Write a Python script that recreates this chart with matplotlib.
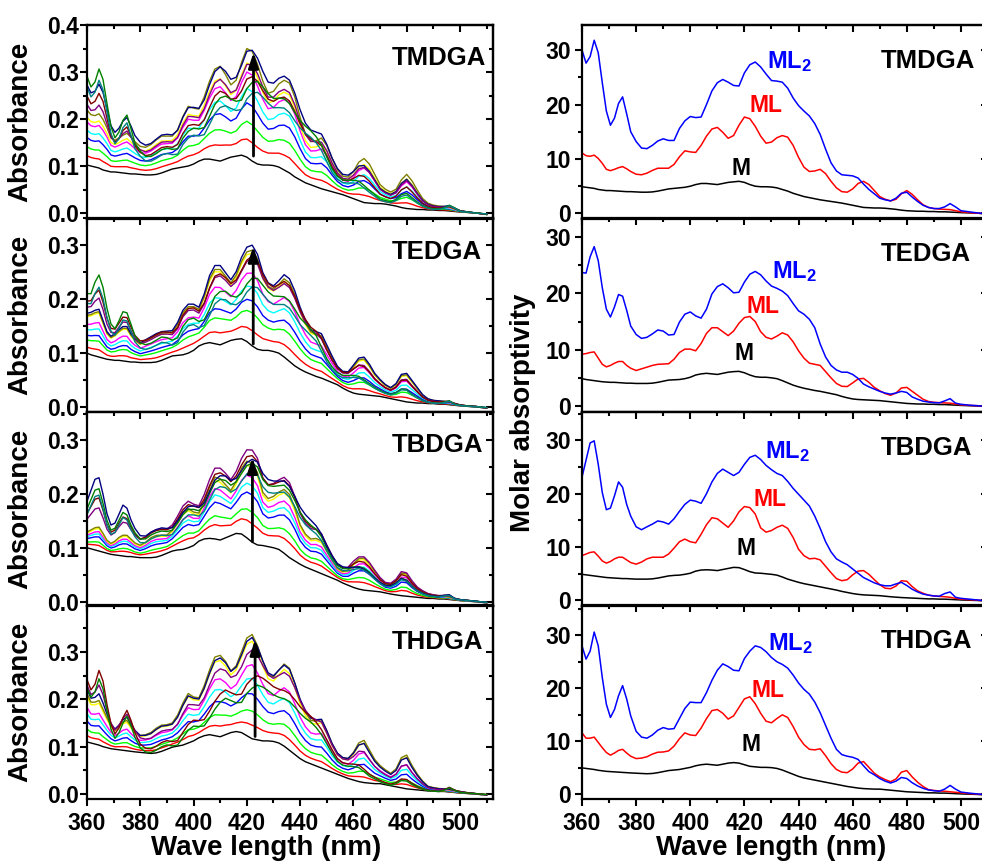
import numpy as np
import matplotlib
matplotlib.use('Agg')
import matplotlib.pyplot as plt
from matplotlib.ticker import MultipleLocator

plt.rcParams['font.family'] = ['Liberation Sans', 'DejaVu Sans']
plt.rcParams['font.weight'] = 'bold'
plt.rcParams['mathtext.fontset'] = 'custom'
plt.rcParams['mathtext.bf'] = 'Liberation Sans:bold'
plt.rcParams['mathtext.rm'] = 'Liberation Sans:bold'
plt.rcParams['mathtext.it'] = 'Liberation Sans:bold'

# ---------------- data ----------------
wavelength = np.r_[np.arange(360, 379, 1.5), np.arange(380, 501, 2), 503, 506, 510]
ligands = ['TMDGA', 'TEDGA', 'TBDGA', 'THDGA']

# molar absorptivity spectra (right column)
eps_M_TMDGA = [4.9, 4.8, 4.7, 4.6, 4.4, 4.3, 4.2, 4.2, 4.15, 4.1, 4.05, 4.0, 4.0,
               3.95, 3.9, 3.9, 3.95, 4.1, 4.3, 4.5, 4.6, 4.7, 4.8, 5.0, 5.3, 5.5, 5.5, 5.4, 5.3, 5.5, 5.7, 5.8, 5.9, 5.7,
               5.3, 5.0, 4.9, 4.9, 4.85, 4.7, 4.4, 4.1, 3.7, 3.4, 3.1, 2.9, 2.7, 2.5, 2.35, 2.2, 2.05, 1.9, 1.7, 1.5,
               1.3, 1.1, 1.05, 1.0, 1.0, 0.95, 0.85, 0.75, 0.6, 0.5, 0.45, 0.4, 0.4, 0.35, 0.35, 0.3, 0.3, 0.25, 0.2, 0.15,
               0.1, 0.05, -0.1]
eps_ML_TMDGA = [11.1, 10.6, 10.5, 10.7, 10.1, 9.2, 8.1, 7.85, 8.1, 8.4, 8.6, 8.2, 7.7,
                7.2, 7.1, 7.4, 7.9, 8.3, 8.3, 8.3, 9.0, 10.4, 11.5, 11.3, 11.2, 12.5, 14.2, 15.5, 15.8, 14.9, 13.8, 14.3, 16.2, 17.7,
                17.4, 16.0, 14.2, 12.9, 13.1, 13.9, 14.3, 14.0, 12.5, 10.3, 8.5, 7.7, 7.8, 8.1, 7.3, 5.9, 4.7, 4.0, 3.9, 4.5,
                5.5, 5.9, 5.3, 4.2, 3.1, 2.6, 2.3, 2.6, 3.6, 4.2, 3.5, 2.5, 1.6, 1.1, 0.9, 0.8, 0.75, 0.7, 0.5, 0.3,
                0.15, 0.05, -0.1]
eps_ML2_TMDGA = [30.0, 27.6, 28.8, 31.8, 29.5, 24.0, 18.8, 16.2, 17.5, 20.2, 21.4, 18.3, 15.0,
                 13.2, 12.0, 11.9, 12.5, 13.3, 13.7, 13.4, 13.4, 15.6, 17.0, 17.8, 17.6, 17.7, 20.0, 22.5, 24.0, 24.6, 24.1, 23.5, 23.4, 25.8,
                 27.3, 27.8, 26.9, 25.6, 24.4, 24.3, 24.1, 23.0, 21.2, 19.8, 18.8, 17.9, 16.5, 14.5, 11.8, 9.3, 7.8, 7.1, 7.0, 6.9,
                 6.5, 5.4, 4.4, 3.6, 2.8, 2.5, 2.3, 2.8, 3.7, 3.9, 3.0, 2.2, 1.5, 1.1, 0.9, 0.9, 1.2, 1.8, 1.2, 0.5,
                 0.3, 0.1, -0.1]

eps_M_TEDGA = [4.85, 4.7, 4.6, 4.5, 4.4, 4.3, 4.25, 4.2, 4.2, 4.15, 4.1, 4.05, 4.05,
               4.0, 4.0, 4.0, 4.05, 4.2, 4.4, 4.6, 4.65, 4.7, 4.85, 5.1, 5.5, 5.7, 5.8, 5.7, 5.6, 5.8, 6.0, 6.1, 6.15, 5.9,
               5.5, 5.2, 5.1, 5.1, 5.0, 4.85, 4.5, 4.1, 3.7, 3.4, 3.15, 2.95, 2.75, 2.6, 2.4, 2.2, 2.0, 1.7, 1.45, 1.25,
               1.15, 1.1, 1.05, 1.0, 0.95, 0.85, 0.75, 0.65, 0.55, 0.45, 0.4, 0.35, 0.35, 0.3, 0.3, 0.25, 0.25, 0.2, 0.15, 0.1,
               0.05, 0.0, -0.1]
eps_ML_TEDGA = [9.2, 9.3, 9.5, 9.6, 8.5, 7.4, 6.95, 7.2, 7.6, 7.9, 7.9, 7.2, 6.7,
                6.3, 6.6, 6.9, 7.2, 7.4, 7.45, 7.5, 8.3, 9.5, 10.1, 10.1, 9.8, 11.1, 12.9, 13.9, 13.9, 13.2, 12.5, 13.3, 14.7, 15.7,
                15.9, 15.0, 13.2, 12.2, 11.9, 12.4, 13.0, 12.6, 11.4, 9.8, 8.5, 7.6, 7.4, 7.2, 6.1, 5.0, 4.0, 3.5, 3.45, 4.1,
                4.8, 4.9, 4.2, 3.3, 2.7, 2.2, 1.9, 2.3, 3.2, 3.3, 2.6, 1.9, 1.2, 0.8, 0.65, 0.6, 0.55, 0.5, 0.35, 0.2,
                0.1, 0.05, -0.1]
eps_ML2_TEDGA = [23.7, 23.6, 26.5, 28.3, 25.8, 21.0, 17.2, 15.8, 17.6, 19.8, 19.5, 17.0, 14.2,
                 12.7, 12.0, 12.2, 12.8, 13.5, 13.3, 12.6, 12.7, 14.9, 16.3, 16.7, 16.0, 15.6, 17.2, 19.9, 21.2, 21.7, 21.0, 20.1, 20.2, 22.0,
                 23.4, 23.9, 23.3, 22.2, 21.3, 20.9, 20.4, 19.6, 18.2, 16.9, 16.3, 15.4, 13.9, 11.0, 8.7, 7.2, 6.4, 6.0, 6.0, 5.6,
                 4.9, 3.9, 3.4, 3.0, 2.6, 2.3, 2.1, 2.3, 2.6, 2.4, 1.6, 1.2, 0.85, 0.7, 0.6, 0.55, 0.9, 1.3, 0.5, 0.3,
                 0.15, 0.05, -0.1]

eps_M_TBDGA = [4.9, 4.8, 4.7, 4.6, 4.5, 4.4, 4.3, 4.25, 4.2, 4.15, 4.1, 4.1, 4.05,
               4.0, 4.0, 4.0, 4.05, 4.2, 4.4, 4.6, 4.7, 4.75, 4.9, 5.1, 5.5, 5.7, 5.75, 5.7, 5.6, 5.8, 6.0, 6.2, 6.15, 5.8,
               5.4, 5.15, 5.1, 5.0, 4.9, 4.75, 4.4, 4.0, 3.7, 3.4, 3.15, 2.95, 2.75, 2.55, 2.35, 2.15, 1.95, 1.7, 1.5, 1.3,
               1.15, 1.05, 1.0, 0.95, 0.9, 0.8, 0.7, 0.62, 0.55, 0.5, 0.45, 0.4, 0.35, 0.3, 0.3, 0.25, 0.25, 0.2, 0.15, 0.1,
               0.05, 0.0, -0.1]
eps_ML_TBDGA = [8.4, 8.7, 9.0, 9.1, 8.3, 7.4, 7.0, 7.3, 7.8, 8.1, 8.1, 7.6, 7.1,
                6.8, 7.2, 7.8, 8.1, 8.1, 8.1, 8.7, 9.8, 11.0, 11.5, 11.0, 10.8, 12.4, 14.2, 15.5, 15.3, 14.5, 13.7, 14.9, 16.6, 17.6,
                17.4, 16.2, 13.6, 12.8, 13.1, 13.7, 14.1, 13.5, 11.8, 9.6, 8.4, 7.8, 7.9, 7.6, 6.4, 5.2, 4.1, 3.7, 3.9, 4.8,
                5.5, 5.6, 4.9, 3.9, 2.95, 2.3, 2.2, 2.7, 3.7, 3.6, 2.6, 1.8, 1.35, 1.0, 0.85, 0.75, 0.7, 0.6, 0.4, 0.25,
                0.15, 0.05, -0.1]
eps_ML2_TBDGA = [23.1, 26.3, 29.5, 29.9, 25.5, 20.2, 17.0, 17.3, 19.6, 22.2, 21.2, 18.0, 15.8,
                 13.8, 13.25, 13.8, 14.3, 14.9, 14.7, 14.3, 15.3, 16.7, 18.0, 18.8, 18.6, 18.2, 20.0, 22.2, 23.8, 24.6, 24.0, 23.4, 24.0, 25.5,
                 26.8, 27.2, 26.4, 25.3, 24.5, 23.8, 23.4, 22.3, 21.0, 19.9, 18.8, 17.7, 15.8, 13.5, 11.0, 9.1, 7.8, 7.2, 6.7, 5.9,
                 5.1, 4.3, 3.8, 3.3, 2.95, 2.75, 2.75, 3.1, 3.4, 2.8, 2.1, 1.6, 1.2, 1.0, 0.85, 0.8, 1.3, 1.6, 0.6, 0.4,
                 0.25, 0.1, -0.1]

eps_M_THDGA = [5.0, 4.9, 4.8, 4.7, 4.55, 4.45, 4.35, 4.3, 4.25, 4.2, 4.15, 4.1, 4.05,
               4.0, 3.95, 3.9, 3.95, 4.1, 4.3, 4.5, 4.6, 4.7, 4.9, 5.1, 5.4, 5.6, 5.7, 5.6, 5.5, 5.7, 5.9, 6.0, 5.9, 5.6,
               5.3, 5.2, 5.1, 5.1, 5.05, 4.9, 4.6, 4.2, 3.8, 3.4, 3.1, 2.9, 2.7, 2.5, 2.3, 2.1, 1.9, 1.7, 1.5, 1.35,
               1.2, 1.1, 1.05, 1.0, 1.0, 0.9, 0.8, 0.7, 0.6, 0.5, 0.45, 0.4, 0.35, 0.3, 0.3, 0.25, 0.25, 0.2, 0.15, 0.1,
               0.05, 0.0, -0.1]
eps_ML_THDGA = [11.6, 10.6, 10.6, 10.8, 9.8, 8.8, 7.9, 7.4, 7.8, 8.3, 8.5, 7.8, 7.2,
                6.75, 6.85, 7.1, 7.6, 7.95, 8.0, 8.2, 9.1, 10.5, 11.6, 11.2, 11.1, 12.5, 14.3, 15.8, 16.0, 15.3, 14.2, 14.8, 16.4, 18.0,
                18.4, 17.1, 15.3, 13.8, 13.5, 14.3, 15.0, 14.5, 12.8, 10.8, 9.4, 8.5, 8.4, 8.6, 7.3, 5.8, 4.7, 4.2, 4.1, 4.8,
                5.9, 6.2, 5.1, 4.0, 3.3, 2.8, 2.4, 2.9, 4.2, 4.5, 3.3, 2.3, 1.5, 0.9, 0.75, 0.65, 0.6, 0.5, 0.4, 0.3,
                0.15, 0.05, -0.1]
eps_ML2_THDGA = [28.0, 25.5, 27.0, 30.6, 28.0, 22.0, 17.0, 14.5, 16.0, 18.6, 20.5, 18.0, 14.8,
                 11.9, 10.8, 10.6, 11.2, 12.1, 12.6, 12.3, 12.4, 14.3, 16.2, 17.4, 17.3, 17.3, 19.2, 21.5, 23.4, 24.6, 24.1, 23.4, 23.3, 25.6,
                 27.0, 28.0, 27.7, 26.9, 25.8, 25.0, 24.5, 23.8, 22.5, 21.0, 19.8, 18.9, 17.4, 15.4, 13.0, 10.6, 8.5, 7.5, 7.2, 7.0,
                 6.6, 5.4, 4.3, 3.7, 3.0, 2.5, 2.15, 2.5, 3.2, 3.0, 2.2, 1.6, 1.15, 0.85, 0.7, 0.6, 1.0, 1.7, 1.0, 0.45,
                 0.25, 0.1, -0.1]

# titration curves (left column): amounts of M, ML, ML2 (x 1e-3) for each recorded spectrum
colors_TMDGA = ['#000000', '#FF0000', '#00FF00', '#0000FF', '#00FFFF', '#FF00FF', '#FFFF00',
                '#808000', '#000080', '#800080', '#800000', '#008000', '#008080']
w_M_TMDGA = [21.0, 17.5, 14.2, 10.5, 7.8, 4.6, 2.7, 0, 0, 0, 0, 0, 0]
w_ML_TMDGA = [0, 3.3, 6.5, 9.9, 12.5, 15.5, 17.2, 19.8, 13.5, 14.4, 8.7, 1.8, 1.5]
w_ML2_TMDGA = [0, 0, 0, 0, 0, 0, 0, 0, 4.1, 2.4, 5.1, 9.05, 8.4]

colors_TEDGA = ['#000000', '#FF0000', '#00FF00', '#0000FF', '#00FFFF', '#FF00FF', '#FFFF00',
                '#808000', '#000080', '#800080', '#800000', '#008000', '#008080']
w_M_TEDGA = [20.6, 17.5, 13.9, 11.4, 8.5, 5.6, 1.6, 0.9, 0, 0, 0, 0, 0]
w_ML_TEDGA = [0, 2.85, 6.2, 8.45, 11.1, 13.7, 17.4, 18.0, 18.9, 13.7, 12.6, 4.6, 4.9]
w_ML2_TEDGA = [0, 0, 0, 0, 0, 0, 0, 0, 0, 2.5, 3.4, 7.1, 6.2]

colors_TBDGA = ['#000000', '#FF0000', '#00FF00', '#0000FF', '#00FFFF', '#FF00FF', '#FFFF00',
                '#808000', '#800080', '#800000', '#008000', '#000080', '#008080']
w_M_TBDGA = [20.5, 16.2, 13.4, 9.4, 7.4, 5.4, 3.1, 2.3, 0, 0, 0, 0, 0]
w_ML_TBDGA = [0, 3.3, 5.4, 8.5, 10.1, 11.6, 13.4, 14.1, 13.6, 10.7, 7.5, 6.3, 7.0]
w_ML2_TBDGA = [0, 0, 0, 0, 0, 0, 0, 0, 1.7, 3.2, 4.75, 5.8, 4.5]

colors_THDGA = ['#000000', '#FF0000', '#00FF00', '#0000FF', '#00FFFF', '#FF00FF', '#FFFF00',
                '#808000', '#000080', '#800080', '#800000', '#008000']
w_M_THDGA = [22.0, 19.1, 16.2, 12.5, 9.3, 6.4, 1.5, 0, 0, 0, 0, 0]
w_ML_THDGA = [0, 2.4, 4.85, 7.9, 10.6, 13.0, 17.1, 18.3, 16.2, 11.4, 1.5, 1.0]
w_ML2_THDGA = [0, 0, 0, 0, 0, 0, 0, 0, 1.2, 3.5, 8.0, 7.6]

# arrows (wavelength, start absorbance, end absorbance)
arrow_x = [422.5, 422.4, 422.1, 423.1]
arrow_y0 = [0.122, 0.117, 0.112, 0.1215]
arrow_y1 = [0.342, 0.298, 0.268, 0.326]

# species label positions on the right panels (wavelength, value)
lab_ML2 = [(428.3, 27.8), (430.2, 23.9), (427.6, 27.9), (428.7, 28.5)]
lab_ML = [(422.0, 19.9), (420.8, 17.6), (423.3, 18.9), (422.7, 19.5)]
lab_M = [(415.4, 8.2), (416.5, 9.3), (417.1, 9.7), (419.0, 9.4)]

left_ylims = [(-0.0107, 0.4005), (-0.0094, 0.35), (-0.007, 0.353), (-0.0104, 0.398)]
right_ylims = [(-0.93, 34.6), (-1.07, 33.3), (-0.94, 35.3), (-0.86, 35.6)]

spectra = {
    'TMDGA': (eps_M_TMDGA, eps_ML_TMDGA, eps_ML2_TMDGA),
    'TEDGA': (eps_M_TEDGA, eps_ML_TEDGA, eps_ML2_TEDGA),
    'TBDGA': (eps_M_TBDGA, eps_ML_TBDGA, eps_ML2_TBDGA),
    'THDGA': (eps_M_THDGA, eps_ML_THDGA, eps_ML2_THDGA),
}
titration = {
    'TMDGA': (colors_TMDGA, w_M_TMDGA, w_ML_TMDGA, w_ML2_TMDGA),
    'TEDGA': (colors_TEDGA, w_M_TEDGA, w_ML_TEDGA, w_ML2_TEDGA),
    'TBDGA': (colors_TBDGA, w_M_TBDGA, w_ML_TBDGA, w_ML2_TBDGA),
    'THDGA': (colors_THDGA, w_M_THDGA, w_ML_THDGA, w_ML2_THDGA),
}

# ---------------- layout ----------------
W, H = 982, 868
fig = plt.figure(figsize=(W / 100, H / 100), dpi=100)
top_px, bot_px = 25, 799
ph = (bot_px - top_px) / 4.0
LX0, RX0, AW = 87, 582, 406

TICK_FS = 16.5
LAB_FS = 20
TITLE_FS = 18.5


def style_axes(ax, ymaj, ymin):
    for s in ax.spines.values():
        s.set_linewidth(1.6)
    ax.xaxis.set_major_locator(MultipleLocator(20))
    ax.xaxis.set_minor_locator(MultipleLocator(10))
    ax.yaxis.set_major_locator(MultipleLocator(ymaj))
    ax.yaxis.set_minor_locator(MultipleLocator(ymin))
    ax.tick_params(which='both', direction='out', width=1.5, top=False, right=False,
                   labelsize=TICK_FS)
    ax.tick_params(which='major', length=5)
    ax.tick_params(which='minor', length=3)
    ax.tick_params(axis='x', pad=4)
    sx = ax.secondary_xaxis('top')
    sx.xaxis.set_major_locator(MultipleLocator(20))
    sx.xaxis.set_minor_locator(MultipleLocator(10))
    sx.tick_params(which='both', direction='in', width=1.5, labeltop=False)
    sx.tick_params(which='major', length=5)
    sx.tick_params(which='minor', length=3)
    sx.spines['top'].set_linewidth(1.6)
    sy = ax.secondary_yaxis('right')
    sy.yaxis.set_major_locator(MultipleLocator(ymaj))
    sy.yaxis.set_minor_locator(MultipleLocator(ymin))
    sy.tick_params(which='both', direction='in', width=1.5, labelright=False)
    sy.tick_params(which='major', length=5)
    sy.tick_params(which='minor', length=3)
    sy.spines['right'].set_linewidth(1.6)


wl = wavelength
for i, lig in enumerate(ligands):
    y_top = top_px + i * ph
    yb = 1 - (y_top + ph) / H
    hh = ph / H

    # ---- left: titration spectra ----
    axl = fig.add_axes([LX0 / W, yb, AW / W, hh])
    eM, eML, eML2 = (np.array(a) for a in spectra[lig])
    cols, wM, wML, wML2 = titration[lig]
    for c, a, b, d in zip(cols, wM, wML, wML2):
        absorb = (a * eM + b * eML + d * eML2) / 1000.0
        axl.plot(wl, absorb, color=c, lw=1.0)
    axl.annotate('', xy=(arrow_x[i], arrow_y1[i]), xytext=(arrow_x[i], arrow_y0[i]),
                 arrowprops=dict(arrowstyle='-|>,head_length=0.6,head_width=0.2',
                                 color='black', lw=2.0, mutation_scale=15,
                                 shrinkA=0, shrinkB=0))
    axl.set_xlim(360, 512.4)
    axl.set_ylim(*left_ylims[i])
    style_axes(axl, 0.1, 0.05)
    axl.tick_params(axis='y', pad=1)
    axl.yaxis.set_major_formatter(matplotlib.ticker.FormatStrFormatter('%.1f'))
    axl.text(0.751, 0.828 if i < 3 else 0.81, lig, transform=axl.transAxes,
             fontsize=TITLE_FS, fontweight='bold', ha='left', va='center')
    axl.set_ylabel('Absorbance', fontsize=LAB_FS, fontweight='bold')
    axl.yaxis.set_label_coords(-0.132, 0.5)
    if i < 3:
        axl.tick_params(axis='x', labelbottom=False)

    # ---- right: molar absorptivity ----
    axr = fig.add_axes([RX0 / W, yb, AW / W, hh])
    axr.plot(wl, eM, color='black', lw=1.1)
    axr.plot(wl, eML, color='#FF0000', lw=1.1)
    axr.plot(wl, eML2, color='#0000FF', lw=1.1)
    axr.set_xlim(360, 510)
    axr.set_ylim(*right_ylims[i])
    style_axes(axr, 10, 5)
    axr.tick_params(axis='y', pad=3)
    axr.text(0.737, 0.815, lig, transform=axr.transAxes,
             fontsize=TITLE_FS, fontweight='bold', ha='left', va='center')
    axr.text(*lab_ML2[i], r'$\mathbf{ML_2}$', color='#0000FF', fontsize=17,
             ha='left', va='center')
    axr.text(*lab_ML[i], 'ML', color='#FF0000', fontsize=16.5, fontweight='bold',
             ha='left', va='center')
    axr.text(*lab_M[i], 'M', color='black', fontsize=16.5, fontweight='bold',
             ha='left', va='center')
    if i < 3:
        axr.tick_params(axis='x', labelbottom=False)

fig.text(266 / W, 1 - 848 / H, 'Wave length (nm)', fontsize=LAB_FS, fontweight='bold',
         ha='center', va='center')
fig.text(771 / W, 1 - 848 / H, 'Wave length (nm)', fontsize=LAB_FS, fontweight='bold',
         ha='center', va='center')
fig.text(523 / W, 1 - 413 / H, 'Molar absorptivity', fontsize=LAB_FS, fontweight='bold',
         rotation=90, ha='center', va='center')

fig.savefig('out.png', dpi=100)
